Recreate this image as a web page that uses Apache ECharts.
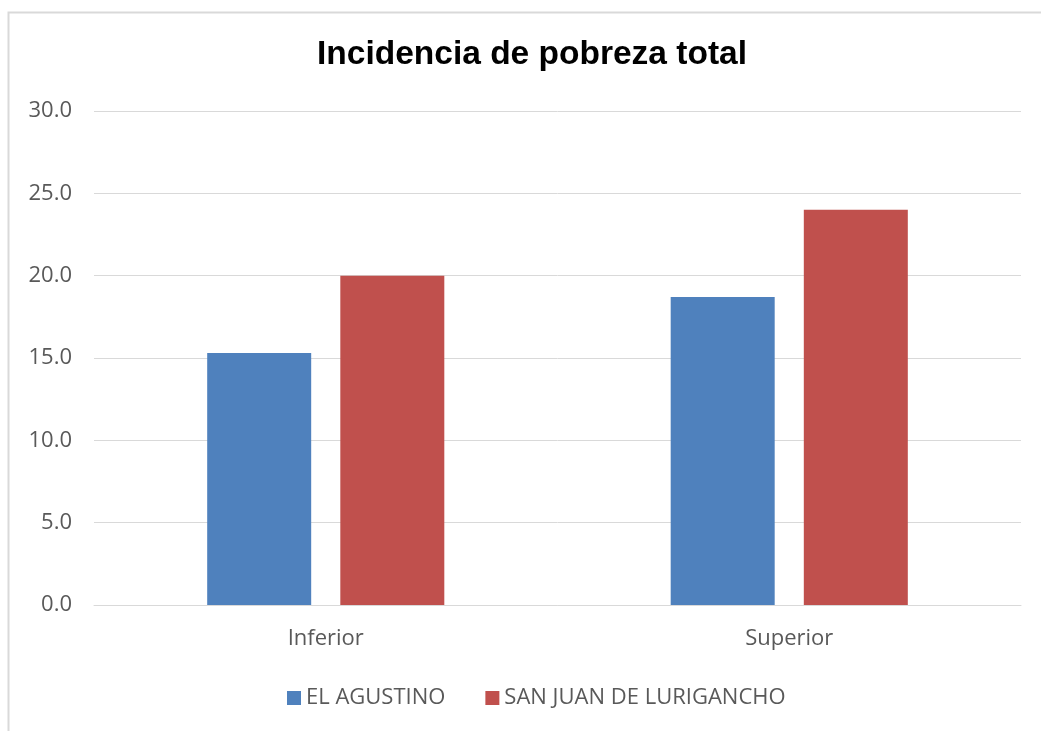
<!DOCTYPE html>
<html>
<head>
<meta charset="utf-8">
<script src="https://cdn.jsdelivr.net/npm/echarts@6/dist/echarts.min.js"></script>
<style>
  html, body { margin: 0; padding: 0; background: #fff; }
  #chart { width: 1041px; height: 731px; }
</style>
</head>
<body>
<div id="chart"></div>
<script>
const categories = ['Inferior', 'Superior'];
const seriesNames = ['EL AGUSTINO', 'SAN JUAN DE LURIGANCHO'];
const elAgustino = [15.3, 18.7];
const sanJuan = [20.0, 24.0];
const colors = ['#4F81BD', '#C0504D'];

const chart = echarts.init(document.getElementById('chart'));
const labelFont = '"Open Sans", "Noto Sans", sans-serif';

chart.setOption({
  animation: false,
  title: {
    text: 'Incidencia de pobreza total',
    left: 527,
    textAlign: 'center',
    top: 33,
    textStyle: {
      fontFamily: '"Liberation Sans", Arial, sans-serif',
      fontSize: 33.5,
      fontWeight: 'bold',
      color: '#000',
    },
  },
  // outer frame of the chart box (cut at right)
  graphic: [{
    type: 'rect',
    shape: { x: 8.5, y: 12.5, width: 1100, height: 800 },
    style: { fill: 'none', stroke: '#d9d9d9', lineWidth: 2 },
    silent: true,
  }],
  grid: { left: 94, right: 20, top: 111, bottom: 126, containLabel: false },
  legend: {
    bottom: 17,
    left: 282,
    itemWidth: 14,
    itemHeight: 14,
    itemGap: 40,
    icon: 'rect',
    textStyle: { fontFamily: labelFont, fontSize: 22, color: '#595959' },
    data: seriesNames,
  },
  xAxis: {
    type: 'category',
    data: categories,
    axisTick: { show: false },
    axisLine: { lineStyle: { color: '#d9d9d9', width: 1 } },
    axisLabel: { fontFamily: labelFont, fontSize: 22, color: '#595959', margin: 23 },
  },
  yAxis: {
    type: 'value',
    min: 0,
    max: 30,
    interval: 5,
    axisLine: { show: false },
    axisTick: { show: false },
    splitLine: { lineStyle: { color: '#d9d9d9', width: 1 } },
    axisLabel: {
      fontFamily: labelFont,
      fontSize: 22,
      color: '#595959',
      margin: 22,
      formatter: v => v.toFixed(1),
    },
  },
  series: [
    {
      name: seriesNames[0],
      type: 'bar',
      data: elAgustino,
      barWidth: 104,
      barGap: '28%',
      itemStyle: { color: colors[0] },
    },
    {
      name: seriesNames[1],
      type: 'bar',
      data: sanJuan,
      barWidth: 104,
      barGap: '28%',
      itemStyle: { color: colors[1] },
    },
  ],
});
</script>
</body>
</html>
